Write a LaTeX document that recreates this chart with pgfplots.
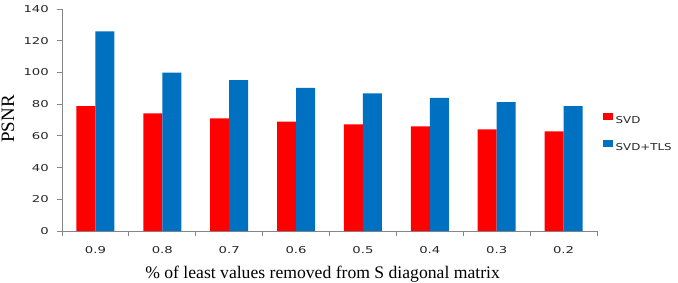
\documentclass[border=0pt]{standalone}
\usepackage{fontspec}
\setmainfont{Liberation Serif}
\newfontfamily\tickfont{DejaVu Sans}
\usepackage{pgfplots}
\pgfplotsset{compat=1.18}
\definecolor{svdred}{RGB}{255,0,0}
\definecolor{tlsblue}{RGB}{0,112,192}
\definecolor{axgray}{RGB}{134,134,134}
\newcommand{\wide}[1]{\scalebox{1.4}[1]{#1}}
\newcommand{\legwide}[1]{\scalebox{1.25}[1]{#1}}
\begin{document}
\begin{tikzpicture}
\begin{axis}[
  name=ax,
  width=535bp, height=222bp, scale only axis,
  ybar=0pt, bar width=19bp,
  xmin=-0.5, xmax=7.5, ymin=0, ymax=140,
  ytick={0,20,...,140},
  yticklabels={\wide{0},\wide{20},\wide{40},\wide{60},\wide{80},\wide{100},\wide{120},\wide{140}},
  xtick={-0.5,0.5,...,7.5},
  x tick label as interval,
  xticklabels={\wide{0.9},\wide{0.8},\wide{0.7},\wide{0.6},\wide{0.5},\wide{0.4},\wide{0.3},\wide{0.2}},
  axis x line*=bottom, axis y line*=left,
  axis line style={axgray, line width=0.8bp, -},
  tick style={axgray, line width=0.8bp},
  tick align=outside,
  major tick length=5bp,
  ticklabel style={font=\tickfont\fontsize{9.5}{11}\selectfont, color=black!85},
  yticklabel style={inner sep=0pt, xshift=-8bp},
  xticklabel style={inner sep=0pt, yshift=-10bp},
  ylabel={PSNR},
  xlabel={\% of least values removed from S diagonal matrix},
  every axis y label/.style={at={(axis description cs:-0.101,0.505)}, rotate=90, anchor=center, font=\fontsize{19}{22}\selectfont},
  every axis x label/.style={at={(axis description cs:0.487,-0.212)}, anchor=base, font=\fontsize{17.7}{20}\selectfont},
  legend style={draw=none, fill=none, at={(axis description cs:1.0103,0.447)}, anchor=west, inner sep=0pt,
    font=\tickfont\fontsize{9.5}{11}\selectfont, row sep=16.3bp,
    nodes={inner sep=0pt, text height=7bp, text depth=0bp, text=black!85},
    /tikz/every odd column/.append style={column sep=3bp}},
  legend cell align=left,
  legend image code/.code={\fill[#1] (0bp,0bp) rectangle (10bp,7bp);},
]
\addplot[fill=svdred, draw=none] coordinates {(0,78.8)(1,74.2)(2,71)(3,68.9)(4,67.3)(5,66)(6,64.1)(7,62.9)};
\addplot[fill=tlsblue, draw=none] coordinates {(0,125.9)(1,99.8)(2,95.2)(3,90.2)(4,86.8)(5,83.9)(6,81.3)(7,78.8)};
\legend{\legwide{SVD},\legwide{SVD+TLS}}
\end{axis}
\pgfresetboundingbox
\path ([shift={(-62bp,-51bp)}]ax.south west) rectangle ([shift={(81bp,9bp)}]ax.north east);
\end{tikzpicture}
\end{document}
